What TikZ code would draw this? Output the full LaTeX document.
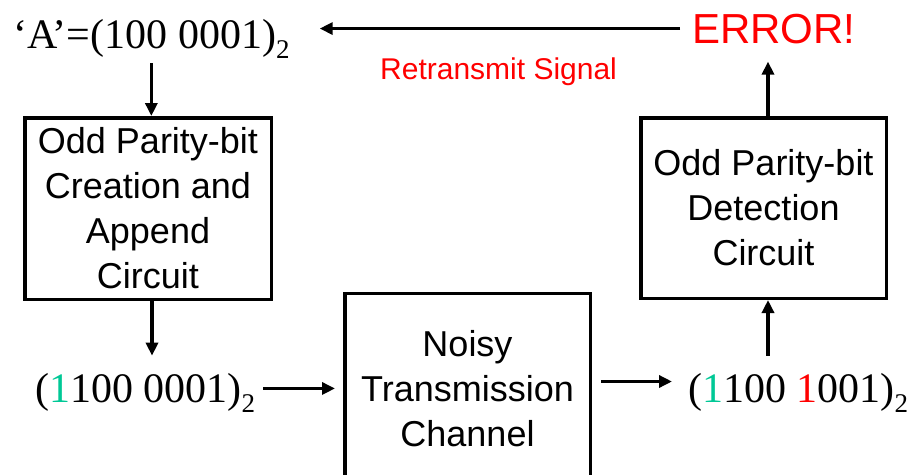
\documentclass[tikz,border=0pt]{standalone}
\usepackage{fontspec}
\setmainfont{Liberation Serif}
\newfontfamily\arialfont{Liberation Sans}
\usetikzlibrary{arrows.meta,calc}
\definecolor{paritygreen}{RGB}{0,200,150}
\definecolor{errred}{RGB}{255,0,0}
% binary subscript, set lower and smaller than the digits
\newcommand{\binsub}{\raisebox{-0.24em}{\fontsize{27}{27}\selectfont 2}}
\tikzset{
  blockbox/.style={draw, line width=3.5pt, inner sep=0pt, align=center,
    font=\arialfont\fontsize{36}{45}\selectfont},
  bitstext/.style={inner sep=0pt, anchor=base west,
    font=\fontsize{42}{42}\selectfont},
  arr/.style={line width=3.5pt, -{Triangle[length=13pt,width=12pt]}},
}
\begin{document}
\begin{tikzpicture}[x=1pt,y=-1pt]
\useasboundingbox (0,0) rectangle (912,474);
\clip (0,0) rectangle (912,474);

% source character
\node[bitstext] (src) at (13,48) {‘A’=(100 0001)\binsub};

% parity creation block
\node[blockbox, minimum width=246.5pt, minimum height=181.5pt] (enc) at (148,208.5)
  {Odd Parity-bit\\Creation and\\Append\\Circuit};

% encoded word
\node[bitstext] (coded) at (35,402) {(\textcolor{paritygreen}{1}100 0001)\binsub};

% channel (its bottom edge runs off the page)
\node[blockbox, minimum width=245.5pt, minimum height=190pt] (chan) at (467.5,388.5)
  {Noisy\\Transmission\\Channel};

% received word
\node[bitstext] (recv) at (688,402)
  {(\textcolor{paritygreen}{1}100 \textcolor{errred}{1}001)\binsub};

% parity detection block
\node[blockbox, minimum width=245.5pt, minimum height=180.5pt] (det) at (763.5,208)
  {Odd Parity-bit\\Detection\\Circuit};

% error flag and retransmit label
\node[inner sep=0pt, anchor=base west, text=errred,
  font=\arialfont\fontsize{42}{42}\selectfont] (err) at (692,43) {ERROR!};
\node[inner sep=0pt, anchor=base west, text=errred,
  font=\arialfont\fontsize{30}{30}\selectfont] (retx) at (380,79) {Retransmit Signal};

% connectors
\draw[arr, shorten <=5pt] (src.south) -- (src.south |- enc.north);
\draw[arr, shorten >=17pt] ([xshift=4pt]enc.south) -- ([xshift=4pt]enc.south |- coded.north);
\draw[arr, shorten <=8pt, shorten >=8pt] ([yshift=4pt]coded.east) -- ([yshift=4pt]coded.east -| chan.west);
\draw[arr, shorten <=9pt, shorten >=16pt] ([yshift=7pt]chan.east) -- ([yshift=7pt]chan.east -| recv.west);
\draw[arr, shorten <=17pt] ([xshift=4.5pt]det.south |- recv.north) -- ([xshift=4.5pt]det.south);
\draw[arr, shorten >=18pt] ([xshift=4.5pt]det.north) -- ([xshift=4.5pt]det.north |- err.south);
\draw[arr, shorten <=12pt, shorten >=30pt] (err.west) -- (err.west -| src.east);
\end{tikzpicture}
\end{document}
